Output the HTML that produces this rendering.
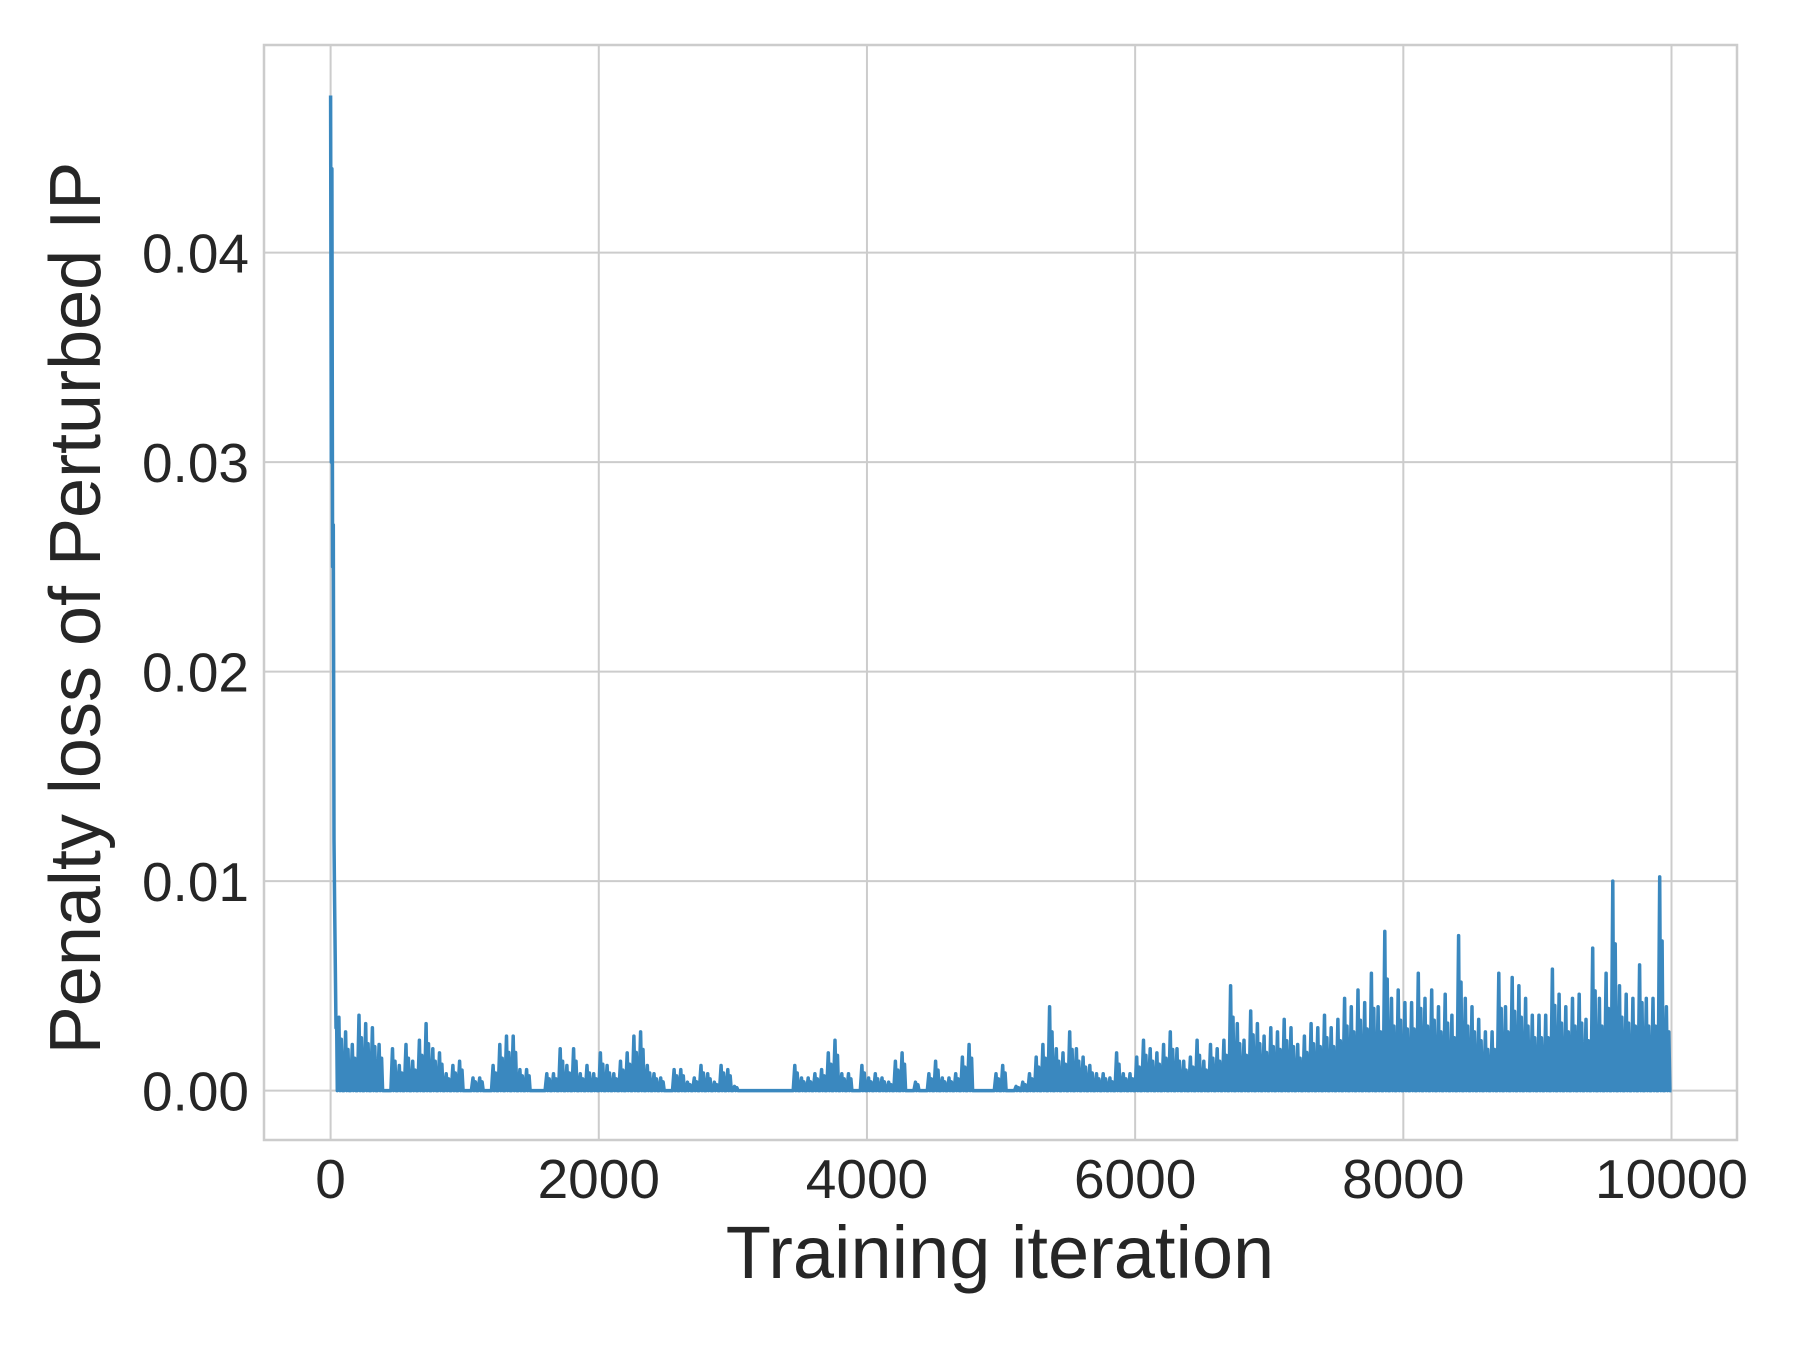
<!DOCTYPE html>
<html><head><meta charset="utf-8">
<style>
html,body{margin:0;padding:0;background:#fff;}
svg{display:block;font-family:"Liberation Sans",Arial,sans-serif;}
</style></head>
<body>
<svg id="chart" width="1800" height="1350" viewBox="0 0 1800 1350" xmlns="http://www.w3.org/2000/svg">
<rect x="264" y="45" width="1473" height="1095" fill="#fff"/>
<g id="grid"></g>
<g id="series"></g>
<rect x="264" y="45" width="1473" height="1095" fill="none" stroke="#cccccc" stroke-width="2.5"/>
<g id="xticks"></g>
<g id="yticks"></g>
<text x="1000" y="1278" font-size="74" text-anchor="middle" fill="#262626">Training iteration</text>
<text transform="translate(100,608) rotate(-90)" font-size="72" text-anchor="middle" fill="#262626">Penalty loss of Perturbed IP</text>
</svg>
<script>
const xTicks = [0, 2000, 4000, 6000, 8000, 10000];
const xTickLabels = ["0", "2000", "4000", "6000", "8000", "10000"];
const yTicks = [0, 0.01, 0.02, 0.03, 0.04];
const yTickLabels = ["0.00", "0.01", "0.02", "0.03", "0.04"];
const initIters = [0, 5, 10, 15, 20, 25, 30, 35, 40, 45];
const initValues = [0.0475, 0.030, 0.044, 0.025, 0.027, 0.012, 0.009, 0.006, 0.003, 0.0035];
const bucketStep = 50;
const bucketValues = [
0.0030,0.0035,0.0028,0.0022,0.0036,0.0032,0.0030,0.0022,0,0.0020,0.0012,0.0022,0.0014,0.0024,0.0032,0.0020,0.0018,0.0008,0.0012,0.0014,
0,0.0006,0.0006,0,0.0012,0.0022,0.0026,0.0026,0.0010,0.0010,0,0,0.0008,0.0008,0.0020,0.0012,0.0020,0.0008,0.0012,0.0008,
0.0018,0.0012,0.0008,0.0014,0.0018,0.0026,0.0028,0.0012,0.0008,0.0006,0,0.0010,0.0010,0.0004,0.0006,0.0012,0.0008,0.0004,0.0012,0.0010,
0.0002,0,0,0,0,0,0,0,0,0.0012,0.0006,0.0006,0.0008,0.0010,0.0018,0.0024,0.0008,0.0008,0,0.0012,
0.0006,0.0008,0.0006,0.0004,0.0014,0.0018,0,0.0004,0,0.0008,0.0014,0.0006,0.0006,0.0008,0.0016,0.0022,0,0,0,0.0008,
0.0012,0,0.0002,0.0004,0.0008,0.0016,0.0022,0.0040,0.0020,0.0018,0.0028,0.0020,0.0016,0.0012,0.0008,0.0008,0.0006,0.0018,0.0008,0.0008,
0.0016,0.0024,0.0020,0.0018,0.0022,0.0028,0.0020,0.0014,0.0016,0.0024,0.0014,0.0022,0.0020,0.0024,0.0050,0.0032,0.0024,0.0038,0.0032,0.0026,
0.0030,0.0028,0.0034,0.0030,0.0022,0.0026,0.0032,0.0030,0.0036,0.0030,0.0034,0.0044,0.0040,0.0048,0.0042,0.0056,0.0040,0.0076,0.0044,0.0048,
0.0042,0.0042,0.0056,0.0044,0.0048,0.0040,0.0046,0.0036,0.0074,0.0044,0.0040,0.0034,0.0028,0.0028,0.0056,0.0040,0.0054,0.0050,0.0044,0.0036,
0.0036,0.0036,0.0058,0.0046,0.0040,0.0044,0.0046,0.0034,0.0068,0.0044,0.0056,0.0100,0.0050,0.0046,0.0044,0.0060,0.0044,0.0044,0.0102,0.0040
];
const NS = "http://www.w3.org/2000/svg";
const X0 = 330.6, X1 = 1671.5, Y0 = 1090.6, YPER = 20950;
function xs(v){ return X0 + (X1 - X0) * v / 10000; }
function ys(v){ return Y0 - v * YPER; }
const grid = document.getElementById('grid');
xTicks.forEach((t, i) => {
  const l = document.createElementNS(NS, 'line');
  
  
  l.setAttribute('x1', xs(t)); l.setAttribute('x2', xs(t));
  l.setAttribute('y1', 45); l.setAttribute('y2', 1140);
  l.setAttribute('stroke', '#cccccc'); l.setAttribute('stroke-width', '2');
  grid.appendChild(l);
  const tx = document.createElementNS(NS, 'text');
  
  
  tx.setAttribute('x', xs(t)); tx.setAttribute('y', 1198);
  tx.setAttribute('font-size', '55'); tx.setAttribute('text-anchor', 'middle'); tx.setAttribute('fill', '#262626');
  tx.textContent = xTickLabels[i];
  document.getElementById('xticks').appendChild(tx);
});
yTicks.forEach((t, i) => {
  const l = document.createElementNS(NS, 'line');
  
  
  l.setAttribute('x1', 264); l.setAttribute('x2', 1737);
  l.setAttribute('y1', ys(t)); l.setAttribute('y2', ys(t));
  l.setAttribute('stroke', '#cccccc'); l.setAttribute('stroke-width', '2');
  grid.appendChild(l);
  const tx = document.createElementNS(NS, 'text');
  
  
  tx.setAttribute('x', 249); tx.setAttribute('y', ys(t) + 20);
  tx.setAttribute('font-size', '55'); tx.setAttribute('text-anchor', 'end'); tx.setAttribute('fill', '#262626');
  tx.textContent = yTickLabels[i];
  document.getElementById('yticks').appendChild(tx);
});
let pts = [];
initIters.forEach((it, i) => { pts.push([xs(it), ys(initValues[i])]); });
bucketValues.forEach((v, i) => {
  const it = i * bucketStep;
  if (i === 0) { pts.push([xs(50), ys(0)]); return; }
  pts.push([xs(it), ys(0)]);
  pts.push([xs(it + 12), ys(v)]);
  pts.push([xs(it + 20), ys(0)]);
  pts.push([xs(it + 30), ys(v * 0.7)]);
  pts.push([xs(it + 38), ys(0)]);
});
pts.push([xs(10000), ys(0)]);
const p = document.createElementNS(NS, 'polyline');


p.setAttribute('points', pts.map(q => q[0].toFixed(1) + ',' + q[1].toFixed(1)).join(' '));
p.setAttribute('fill', 'none'); p.setAttribute('stroke', '#3a88bf'); p.setAttribute('stroke-width', '3.5');
p.setAttribute('stroke-linejoin', 'round');
document.getElementById('series').appendChild(p);
</script>
</body></html>
